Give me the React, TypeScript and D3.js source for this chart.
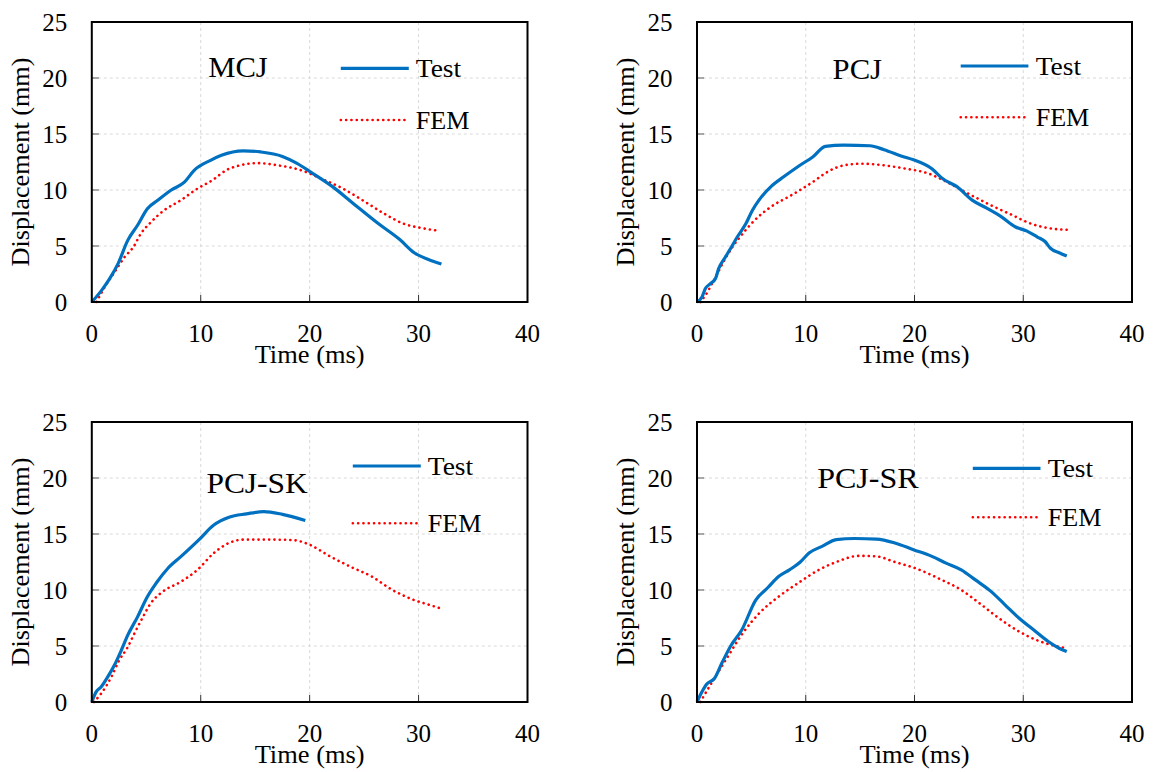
import React from "react";
import * as d3 from "d3";

type Pt = [number, number];

// time (ms), displacement (mm)
const mcjTest: Pt[] = [
  [0, 0], [0.9, 1.04], [1.64, 2.08], [2.4, 3.4], [3.3, 5.5], [4.2, 6.85], [5.1, 8.33],
  [6.05, 9.08], [7.3, 10.0], [8.5, 10.7], [9.4, 11.76], [10.9, 12.65], [11.9, 13.1],
  [13.9, 13.5], [15.5, 13.4], [17.5, 13.0], [18.8, 12.4], [20.1, 11.6], [22.1, 10.3],
  [24.0, 8.8], [26.3, 7.0], [28.3, 5.55], [29.6, 4.4], [30.9, 3.8], [32.1, 3.4],
];
const mcjFem: Pt[] = [
  [0.43, 0], [1.19, 1.34], [2.1, 2.68], [3.0, 4.0], [3.86, 4.97], [4.5, 6.1], [5.4, 7.1],
  [6.65, 8.2], [8.2, 9.1], [9.5, 10.0], [11.1, 10.9], [12.4, 11.8], [13.6, 12.2],
  [15.2, 12.4], [17.1, 12.2], [19.1, 11.8], [21.1, 11.0], [23.0, 10.15], [25.0, 9.0],
  [27.0, 7.8], [28.6, 7.0], [30.3, 6.6], [31.9, 6.35],
];
const pcjTest: Pt[] = [
  [0, 0], [0.46, 0.45], [0.77, 1.2], [1.24, 1.64], [1.7, 2.1], [2.0, 3.0], [2.6, 4.0],
  [3.1, 4.8], [3.7, 5.8], [4.5, 7.0], [5.1, 8.2], [5.7, 9.1], [6.8, 10.3], [8.0, 11.2],
  [9.3, 12.1], [10.7, 13.0], [11.8, 13.9], [13.5, 14.0], [15.9, 13.95], [17.2, 13.6],
  [18.9, 13.0], [19.9, 12.7], [21.6, 11.9], [22.6, 11.0], [23.9, 10.3], [25.3, 9.1],
  [26.6, 8.4], [28.0, 7.6], [29.3, 6.7], [30.3, 6.35], [31.3, 5.8], [32.0, 5.4],
  [32.5, 4.8], [33.3, 4.4], [34.0, 4.1],
];
const pcjFem: Pt[] = [
  [0.3, 0], [0.77, 0.6], [1.55, 1.94], [2.5, 3.7], [3.25, 4.9], [4.2, 6.1], [5.3, 7.3],
  [6.8, 8.5], [8.7, 9.55], [10.7, 10.75], [11.8, 11.5], [13.5, 12.2], [15.2, 12.35],
  [17.2, 12.2], [19.2, 11.9], [21.2, 11.5], [22.9, 10.75], [24.9, 9.7], [26.9, 8.7],
  [28.9, 7.8], [30.7, 7.0], [32.3, 6.6], [34.0, 6.45],
];
const pcjSkTest: Pt[] = [
  [0, 0], [0.4, 0.9], [0.85, 1.34], [1.46, 2.24], [2.07, 3.28], [2.7, 4.6], [3.3, 5.97],
  [4.2, 7.6], [5.1, 9.4], [5.9, 10.6], [6.95, 11.9], [8.2, 13.0], [9.85, 14.5],
  [11.2, 15.8], [12.6, 16.5], [14.2, 16.8], [15.8, 17.0], [17.5, 16.75], [19.6, 16.2],
];
const pcjSkFem: Pt[] = [
  [0.2, 0], [0.85, 0.75], [1.8, 2.24], [2.5, 3.7], [3.3, 4.9], [3.9, 6.1], [4.7, 7.6],
  [5.4, 8.8], [6.3, 9.7], [8.2, 10.75], [9.7, 11.8], [11.2, 13.3], [12.6, 14.2],
  [13.9, 14.5], [16.5, 14.5], [18.5, 14.45], [20.1, 14.0], [21.7, 13.1], [23.7, 12.1],
  [25.7, 11.2], [27.6, 10.0], [29.6, 9.1], [30.9, 8.7], [31.9, 8.4],
];
const pcjSrTest: Pt[] = [
  [0, 0], [0.4, 0.8], [0.9, 1.6], [1.6, 2.1], [2.3, 3.5], [3.1, 5.0], [4.1, 6.4],
  [5.4, 9.1], [6.5, 10.2], [7.5, 11.2], [8.5, 11.8], [9.5, 12.5], [10.3, 13.3],
  [11.5, 13.9], [12.8, 14.5], [14.5, 14.6], [16.5, 14.55], [18.2, 14.2], [19.9, 13.6],
  [21.6, 13.0], [22.9, 12.4], [24.3, 11.8], [25.6, 10.9], [27.0, 9.9], [28.3, 8.7],
  [29.6, 7.5], [31.0, 6.4], [32.3, 5.4], [33.3, 4.8], [34.0, 4.5],
];
const pcjSrFem: Pt[] = [
  [0.3, 0], [1.4, 1.8], [2.8, 4.0], [4.1, 6.0], [5.8, 8.0], [7.5, 9.4], [9.5, 10.75],
  [11.2, 11.8], [12.8, 12.5], [14.9, 13.05], [16.5, 13.0], [18.2, 12.5], [20.2, 11.9],
  [22.3, 11.0], [24.3, 10.0], [26.0, 8.8], [27.6, 7.6], [29.6, 6.3], [31.3, 5.5],
  [33.0, 5.0], [34.0, 4.8],
];

const xTicks = [0, 10, 20, 30, 40];
const yTicks = [0, 5, 10, 15, 20, 25];
const seriesNames = ["Test", "FEM"];
const xTitle = "Time (ms)";
const yTitle = "Displacement (mm)";

const FONT = "'Liberation Serif', 'Times New Roman', serif";
const BLUE = "#0070C0";
const RED = "#FF0000";

const LX0 = 91.8, LX1 = 527.5, RX0 = 697, RX1 = 1132;

const panels = [
  { name: "MCJ", test: mcjTest, fem: mcjFem, x0: LX0, x1: LX1, y0: 22, y1: 302,
    label: [116.4, 55, 59.6], leg: { lx0: 249, lx1: 317, ty: 46.3, tx: 324, fy: 98 } },
  { name: "PCJ", test: pcjTest, fem: pcjFem, x0: RX0, x1: RX1, y0: 22, y1: 302,
    label: [135.6, 57.3, 49.4], leg: { lx0: 263.7, lx1: 331.4, ty: 44, tx: 338.7, fy: 95.3 } },
  { name: "PCJ-SK", test: pcjSkTest, fem: pcjSkFem, x0: LX0, x1: LX1, y0: 422, y1: 702,
    label: [114.6, 70.7, 101.4], leg: { lx0: 261, lx1: 329, ty: 44, tx: 336, fy: 101.3 } },
  { name: "PCJ-SR", test: pcjSrTest, fem: pcjSrFem, x0: RX0, x1: RX1, y0: 422, y1: 702,
    label: [120.2, 66.3, 101.4], leg: { lx0: 275.8, lx1: 343.5, ty: 46.3, tx: 350.8, fy: 95.3 } },
];

function Panel({ p }: { p: (typeof panels)[number] }) {
  const x = d3.scaleLinear().domain([0, 40]).range([p.x0, p.x1]);
  const y = d3.scaleLinear().domain([0, 25]).range([p.y1, p.y0]);
  const line = d3
    .line<Pt>()
    .x((d) => x(d[0]))
    .y((d) => y(d[1]))
    .curve(d3.curveMonotoneX);
  const { leg } = p;

  return (
    <g>
      {/* grid */}
      {xTicks.slice(1, -1).map((t) => (
        <line key={"gx" + t} x1={x(t)} x2={x(t)} y1={p.y0} y2={p.y1}
          stroke="#d9d9d9" strokeWidth={1} strokeDasharray="3,3" />
      ))}
      {yTicks.slice(1, -1).map((t) => (
        <line key={"gy" + t} x1={p.x0} x2={p.x1} y1={y(t)} y2={y(t)}
          stroke="#d9d9d9" strokeWidth={1} strokeDasharray="3,3" />
      ))}
      {/* inside ticks */}
      {xTicks.slice(1, -1).map((t) => (
        <line key={"tx" + t} x1={x(t)} x2={x(t)} y1={p.y1} y2={p.y1 - 7}
          stroke="#333" strokeWidth={1} />
      ))}
      {yTicks.slice(1, -1).map((t) => (
        <line key={"ty" + t} x1={p.x0} x2={p.x0 + 7} y1={y(t)} y2={y(t)}
          stroke="#555" strokeWidth={1} />
      ))}

      <path d={line(p.fem) ?? ""} fill="none" stroke={RED} strokeWidth={2.6}
        strokeDasharray="0.1,5.2" strokeLinecap="round" />
      <path d={line(p.test) ?? ""} fill="none" stroke={BLUE} strokeWidth={3.2}
        strokeLinejoin="round" />

      <rect x={p.x0} y={p.y0} width={p.x1 - p.x0} height={p.y1 - p.y0}
        fill="none" stroke="#000" strokeWidth={2} />

      {/* tick labels */}
      {xTicks.map((t) => (
        <text key={"lx" + t} x={x(t)} y={p.y1 + 40} textAnchor="middle"
          fontFamily={FONT} fontSize={25}>{t}</text>
      ))}
      {yTicks.map((t) => (
        <text key={"ly" + t} x={p.x0 - 24.5} y={y(t) + 8.5} textAnchor="end"
          fontFamily={FONT} fontSize={25}>{t}</text>
      ))}

      {/* axis titles */}
      <text x={(p.x0 + p.x1) / 2 - 55} y={p.y1 + 61} fontFamily={FONT} fontSize={25}
        textLength={110} lengthAdjust="spacingAndGlyphs">{xTitle}</text>
      <text transform={`translate(${p.x0 - 63},${(p.y0 + p.y1) / 2 + 104.5}) rotate(-90)`}
        fontFamily={FONT} fontSize={25.5} textLength={209} lengthAdjust="spacingAndGlyphs">
        {yTitle}
      </text>

      {/* panel label */}
      <text x={p.x0 + p.label[0]} y={p.y0 + p.label[1]} fontFamily={FONT} fontSize={30}
        textLength={p.label[2]} lengthAdjust="spacingAndGlyphs">
        {p.name}
      </text>

      {/* legend */}
      <line x1={p.x0 + leg.lx0} x2={p.x0 + leg.lx1} y1={p.y0 + leg.ty} y2={p.y0 + leg.ty}
        stroke={BLUE} strokeWidth={3.2} />
      <text x={p.x0 + leg.tx} y={p.y0 + leg.ty + 8.5} fontFamily={FONT} fontSize={25}
        textLength={45.4} lengthAdjust="spacingAndGlyphs">
        {seriesNames[0]}
      </text>
      <line x1={p.x0 + leg.lx0} x2={p.x0 + leg.lx1 - 2} y1={p.y0 + leg.fy} y2={p.y0 + leg.fy}
        stroke={RED} strokeWidth={2.6} strokeDasharray="0.1,5.2" strokeLinecap="round" />
      <text x={p.x0 + leg.tx} y={p.y0 + leg.fy + 9} fontFamily={FONT} fontSize={25}
        textLength={53.6} lengthAdjust="spacingAndGlyphs">
        {seriesNames[1]}
      </text>
    </g>
  );
}

export default function App() {
  return (
    <div style={{ position: "absolute", left: 0, top: 0 }}>
      <svg width={1154} height={772} style={{ display: "block", background: "#fff" }}>
        {panels.map((p) => (
          <Panel key={p.name} p={p} />
        ))}
      </svg>
    </div>
  );
}
